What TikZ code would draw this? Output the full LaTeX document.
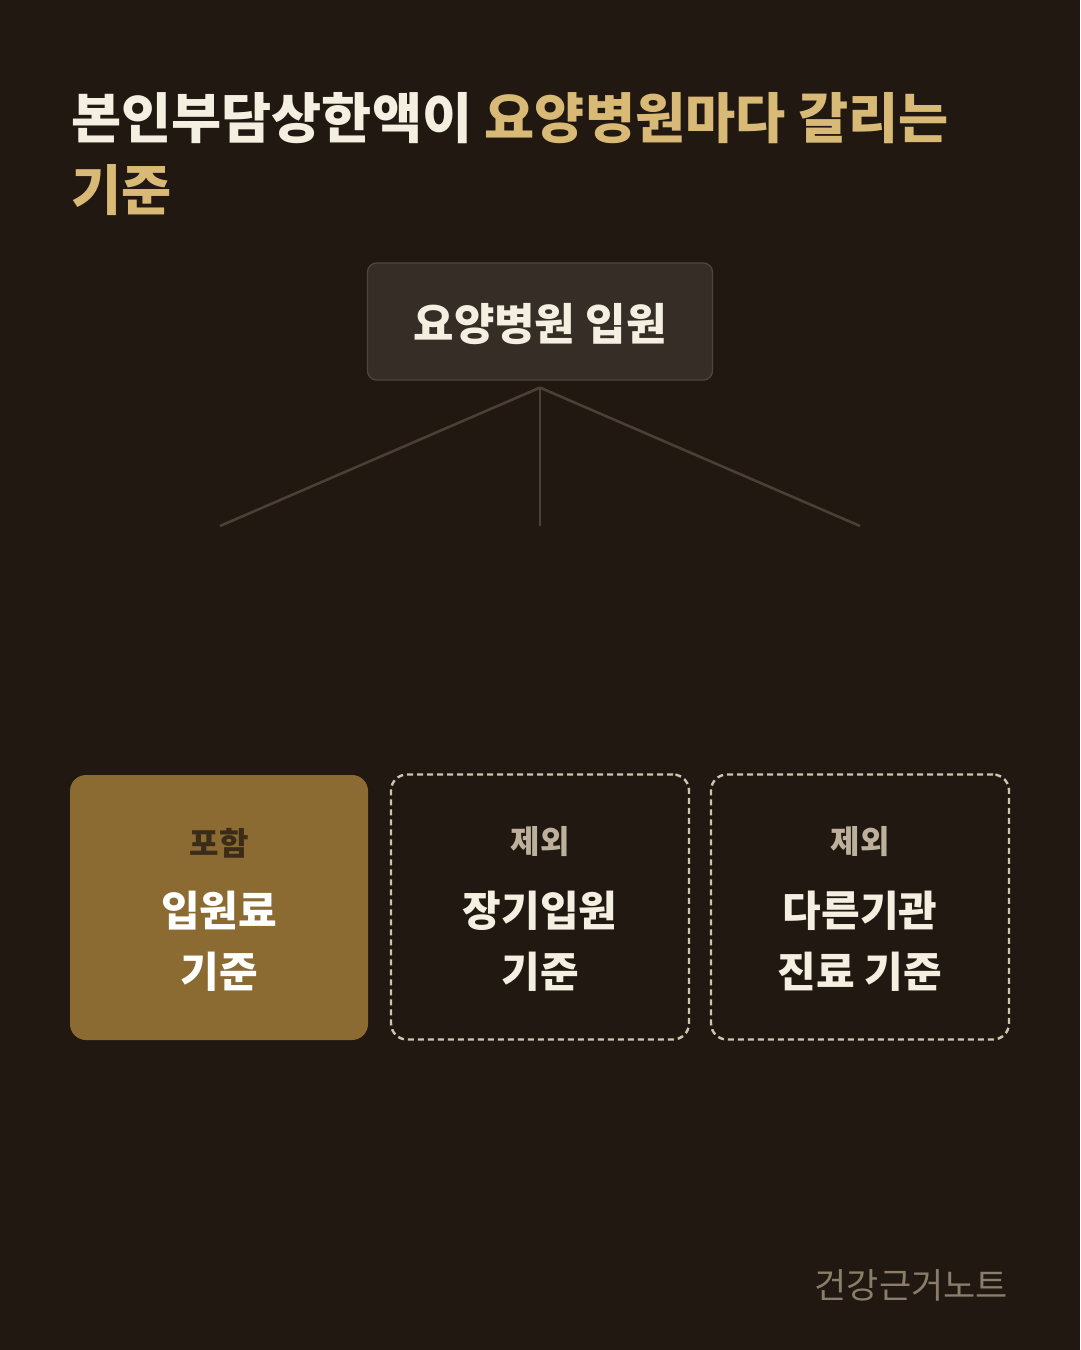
\documentclass[tikz,border=0pt]{standalone}
\usepackage{fontspec}
\setmainfont{Noto Sans CJK KR}
\usetikzlibrary{positioning}

\definecolor{bgbrown}{HTML}{201811}
\definecolor{cream}{HTML}{F5EFE2}
\definecolor{gold}{HTML}{D9B976}
\definecolor{topfill}{HTML}{362E26}
\definecolor{topedge}{HTML}{50473C}
\definecolor{linkgray}{HTML}{4A4036}
\definecolor{incfill}{HTML}{8B6B31}
\definecolor{incdark}{HTML}{3A2C18}
\definecolor{dashgray}{HTML}{CFC6B2}
\definecolor{subgray}{HTML}{BDB19B}
\definecolor{footgray}{HTML}{8A7E6A}

\tikzset{
  rootbox/.style={draw=topedge, line width=1.2pt, fill=topfill, rounded corners=9pt,
    minimum width=345pt, minimum height=117pt},
  rootlabel/.style={text=cream, font=\fontsize{44}{52}\selectfont\bfseries},
  casebox/.style={minimum width=298pt, minimum height=265pt, rounded corners=16pt},
  inbox/.style={casebox, fill=incfill},
  outbox/.style={casebox, draw=dashgray, line width=2.4pt, dash pattern=on 6pt off 4pt},
  tag/.style={font=\fontsize{32}{38}\selectfont\bfseries},
  verdict/.style={align=center, text=cream, font=\fontsize{42}{61}\selectfont\bfseries},
  link/.style={draw=linkgray, line width=2.6pt}
}

\begin{document}
\begin{tikzpicture}[x=1pt, y=-1pt]

\def \gap {68pt}   % tag below box top
\def \drop {34pt}  % verdict below box centre

\fill[bgbrown] (0,0) rectangle (1080,1350);
\useasboundingbox (0,0) rectangle (1080,1350);

% title
\node[anchor=base west, inner sep=0pt, font=\fontsize{54.5}{72}\selectfont\bfseries]
  (title1) at (71,138) {\textcolor{cream}{본인부담상한액이} \textcolor{gold}{요양병원마다 갈리는}};
\node[anchor=base west, inner sep=0pt, font=\fontsize{54.5}{72}\selectfont\bfseries, text=gold]
  (title2) at (71,210) {기준};

% root
\node[rootbox] (root) at (540,321.5) {};
\node[rootlabel] (rootname) at ([yshift=-3pt]root.center) {요양병원 입원};
\coordinate (hub) at ([yshift=-7pt]root.south);

\foreach \n/\x in {1/220, 2/540, 3/860}
{
  \coordinate (end\n) at (\x,526);
  \draw[link] (hub) -- (end\n);
}

% cases
\node[inbox]  (inc)  at (219,907.5) {};
\node[outbox] (exc1) at (540,907) {};
\node[outbox] (exc2) at (860,907) {};

\node[tag, text=incdark] (tinc)  at ([yshift=-\gap]inc.north)  {포함};
\node[tag, text=subgray] (texc1) at ([yshift=-\gap]exc1.north) {제외};
\node[tag, text=subgray] (texc2) at ([yshift=-\gap]exc2.north) {제외};

\node[verdict, text=white] (vinc) at ([yshift=-\drop]inc.center) {입원료\\기준};
\node[verdict] (vexc1) at ([yshift=-\drop]exc1.center) {장기입원\\기준};
\node[verdict] (vexc2) at ([yshift=-\drop]exc2.center) {다른기관\\진료 기준};

% footer
\node[anchor=base east, inner sep=0pt, text=footgray, font=\fontsize{35}{40}\selectfont]
  (brand) at (1008,1298) {건강근거노트};

\end{tikzpicture}
\end{document}
